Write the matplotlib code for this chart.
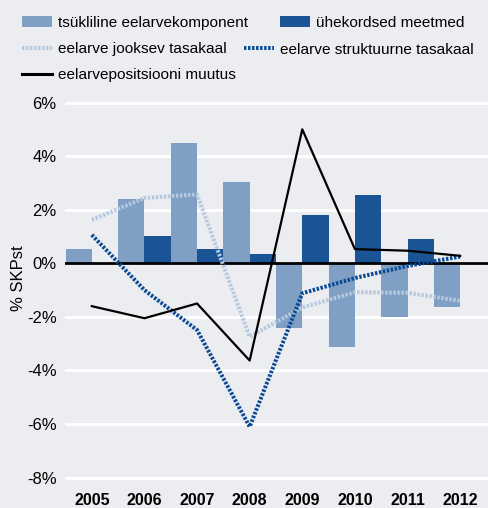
import numpy as np
import matplotlib.pyplot as plt

# Andmed (% SKPst)
aastad = ['2005', '2006', '2007', '2008', '2009', '2010', '2011', '2012']
tsukliline = [0.52, 2.4, 4.5, 3.05, -2.4, -3.13, -2.01, -1.62]
uhekordsed = [0.0, 1.03, 0.53, 0.35, 1.8, 2.54, 0.92, 0.0]
jooksev = [1.62, 2.44, 2.57, -2.74, -1.65, -1.08, -1.1, -1.4]
struktuurne = [1.06, -1.0, -2.49, -6.1, -1.12, -0.55, -0.1, 0.25]
muutus = [-1.6, -2.05, -1.5, -3.63, 5.0, 0.53, 0.47, 0.28]

taust = '#ecedf0'
plt.rcParams['font.family'] = ['Liberation Sans', 'DejaVu Sans']

fig = plt.figure(figsize=(4.88, 5.08), dpi=100, facecolor=taust)
ax = fig.add_axes([65/488, 1 - 485.7/508, 423/488, (485.7 - 94.5)/508])
ax.set_facecolor(taust)

x = np.arange(len(aastad))
w = 0.5

# Tulbad
b1 = ax.bar(x - w/2, tsukliline, w, color='#7f9fc4', zorder=2,
            label='tsükliline eelarvekomponent')
b2 = ax.bar(x + w/2, uhekordsed, w, color='#1b5494', zorder=2,
            label='ühekordsed meetmed')

# Jooned
l1, = ax.plot(x, jooksev, color='#b5c9df', lw=2.9, linestyle=(0, (0.6, 0.4)),
              zorder=3, label='eelarve jooksev tasakaal')
l2, = ax.plot(x, struktuurne, color='#0a4a94', lw=2.9, linestyle=(0, (0.6, 0.4)),
              zorder=4, label='eelarve struktuurne tasakaal')
l3, = ax.plot(x, muutus, color='black', lw=1.6, zorder=5,
              label='eelarvepositsiooni muutus')

ax.axhline(0, color='black', lw=2, zorder=2.5)

ax.set_xlim(-0.51, 7.53)
ax.set_ylim(-8.3, 6.3)
ax.set_yticks(np.arange(-8, 7, 2))
ax.set_yticklabels([f'{v}%' for v in range(-8, 7, 2)])
ax.set_xticks(x)
ax.set_xticklabels(aastad, fontweight='bold')
ax.tick_params(length=0, labelsize=12)
ax.tick_params(axis='x', labelsize=11.5, pad=5)
ax.tick_params(axis='y', pad=6)
ax.grid(axis='y', color='white', lw=2, zorder=0)
for s in ax.spines.values():
    s.set_visible(False)

ax.set_ylabel('% SKPst', fontsize=12)
ax.yaxis.set_label_coords(-39/423, 0.53)

# Legend: kolm rida, igaüks eraldi
read = [([b1, b2], 23, 2.05), ([l1, l2], 49.5, 1.1), ([l3], 75.5, 1.0)]
for h, yc, cs in read:
    leg = fig.legend(handles=h, ncol=2, loc='center left',
                     bbox_to_anchor=(22/488, 1 - yc/508), frameon=False, fontsize=11.1,
                     handlelength=1.95, handleheight=0.7, handletextpad=0.4,
                     columnspacing=cs, borderaxespad=0, borderpad=0)
leg.get_lines()[0].set_linewidth(2.2)

fig.savefig('out.png', dpi=100, facecolor=taust)
